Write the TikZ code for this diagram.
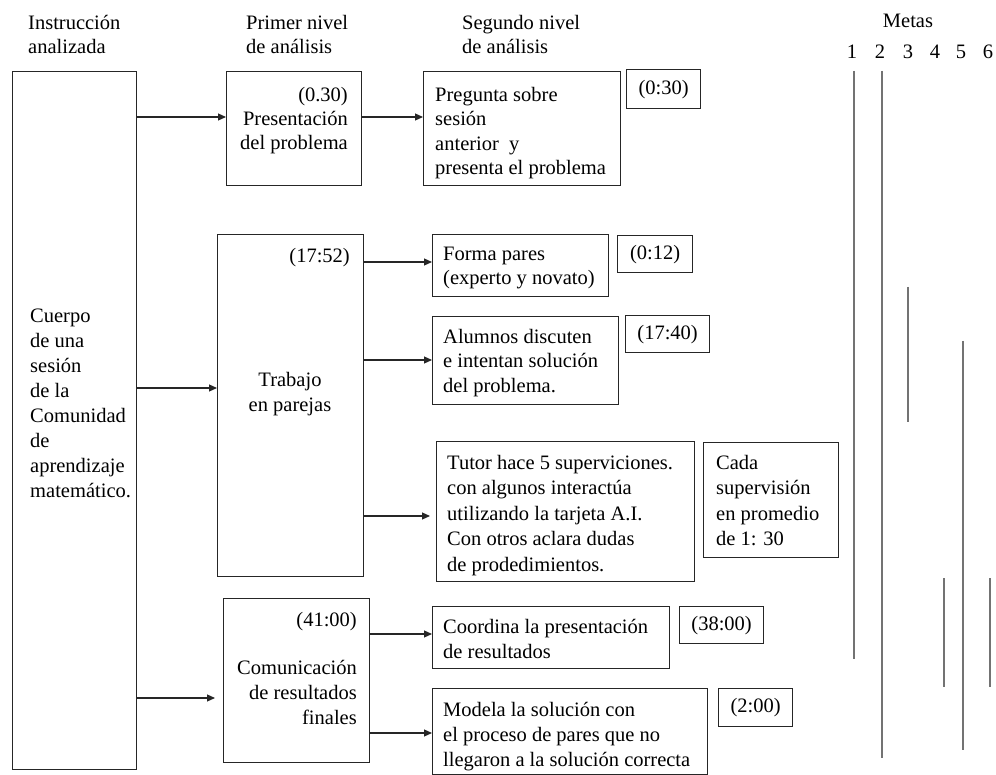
\documentclass[tikz,border=0pt]{standalone}
\usepackage{fontspec}
\setmainfont{Liberation Serif}
\usetikzlibrary{arrows.meta}
\begin{document}
\begin{tikzpicture}[x=1pt,y=-1pt,
  every node/.style={font=\fontsize{20.5}{25}\selectfont, inner sep=0pt},
  box/.style={draw=black!85, line width=1.2pt, anchor=north west},
  txt/.style={align=left, anchor=north west},
  rtxt/.style={align=right, anchor=north east},
  head/.style={align=left, anchor=north west, font=\fontsize{20.5}{24}\selectfont},
  conn/.style={draw=black!85, line width=1.1pt, -{Triangle[length=8pt,width=7pt]}},
  meta/.style={draw=black!55, line width=1.1pt}]

% page frame
\fill[white] (0,0) rectangle (996,775);
\useasboundingbox (0,0) rectangle (996,775);

% column headings
\node[head] (hInst) at (28,15) {Instrucción\\analizada};
\node[head] (hPrim) at (246,15) {Primer nivel\\de análisis};
\node[head] (hSeg)  at (462,15) {Segundo nivel\\de análisis};
\node[anchor=base] (hMetas) at (908,28) {Metas};
\node[anchor=base] (m1) at (852,59) {1};
\node[anchor=base] (m2) at (880,59) {2};
\node[anchor=base] (m3) at (908,59) {3};
\node[anchor=base] (m4) at (935,59) {4};
\node[anchor=base] (m5) at (961,59) {5};
\node[anchor=base] (m6) at (988,59) {6};

% analysed instruction
\node[box, minimum width=124pt, minimum height=698pt] (body) at (12,71) {};
\node[txt] (bodyt) at (30,309) {Cuerpo\\de una\\sesión\\de la\\Comunidad\\de\\aprendizaje\\matemático.};

% first level of analysis
\node[box, minimum width=135pt, minimum height=114pt] (p1) at (226,71) {};
\node[rtxt, font=\fontsize{20.5}{24}\selectfont] (p1t) at (348,87) {(0.30)\\Presentación\\del problema};

\node[box, minimum width=146pt, minimum height=342pt] (trab) at (217,234) {};
\node[rtxt] (trabl) at (350,248) {(17:52)};
\node[align=center, anchor=north] (trabt) at (290,372) {Trabajo\\en parejas};

\node[box, minimum width=146pt, minimum height=164pt] (com) at (223,598) {};
\node[rtxt] (comt) at (357,612) {(41:00)\\[23pt]Comunicación\\de resultados\\finales};

% second level of analysis
\node[box, minimum width=197pt, minimum height=114pt] (preg) at (423,71) {};
\node[txt, font=\fontsize{20.5}{24.4}\selectfont] (pregt) at (435,87) {Pregunta sobre\\sesión\\anterior\ \ y\\presenta el problema};
\node[box, minimum width=74pt, minimum height=39pt] (t030) at (626,69) {};
\node (t030t) at (t030.center) {(0:30)};

\node[box, minimum width=176pt, minimum height=62pt] (forma) at (432,234) {};
\node[txt, font=\fontsize{20.5}{24}\selectfont] (format) at (443,247) {Forma pares\\(experto y novato)};
\node[box, minimum width=75pt, minimum height=37pt] (t012) at (617,235) {};
\node (t012t) at (t012.center) {(0:12)};

\node[box, minimum width=186pt, minimum height=88pt] (alum) at (432,316) {};
\node[txt, font=\fontsize{20.5}{24.5}\selectfont] (alumt) at (443,329) {Alumnos discuten\\e intentan solución\\del problema.};
\node[box, minimum width=84pt, minimum height=37pt] (t1740) at (625,315) {};
\node (t1740t) at (t1740.center) {(17:40)};

\node[box, minimum width=258pt, minimum height=140pt] (tutor) at (436,441) {};
\node[txt, font=\fontsize{20.5}{25.5}\selectfont] (tutort) at (447,455) {Tutor hace 5 superviciones.\\con algunos interactúa\\utilizando la tarjeta A.I.\\Con otros aclara dudas\\de prodedimientos.};
\node[box, minimum width=135pt, minimum height=115pt] (cada) at (703,442) {};
\node[txt, font=\fontsize{20.5}{25.5}\selectfont] (cadat) at (716,455) {Cada\\supervisión\\en promedio\\de 1: 30};

\node[box, minimum width=237pt, minimum height=62pt] (coord) at (432,606) {};
\node[txt] (coordt) at (443,619) {Coordina la presentación\\de resultados};
\node[box, minimum width=84pt, minimum height=37pt] (t3800) at (679,606) {};
\node (t3800t) at (t3800.center) {(38:00)};

\node[box, minimum width=275pt, minimum height=86pt] (modela) at (432,688) {};
\node[txt] (modelat) at (443,702) {Modela la solución con\\el proceso de pares que no\\llegaron a la solución correcta};
\node[box, minimum width=74pt, minimum height=38pt] (t200) at (718,688) {};
\node (t200t) at (t200.center) {(2:00)};

% connector heights
\coordinate (a1) at (0,117);
\coordinate (a2) at (0,388);
\coordinate (a3) at (0,698);
\coordinate (a4) at (0,262);
\coordinate (a5) at (0,360);
\coordinate (a6) at (0,516);
\coordinate (a7) at (0,634);
\coordinate (a8) at (0,733);

% connectors
\draw[conn] (body.east |- a1) -- (p1.west |- a1);
\draw[conn] (p1.east |- a1) -- (preg.west |- a1);
\draw[conn] (body.east |- a2) -- (trab.west |- a2);
\draw[conn, shorten >=8pt] (body.east |- a3) -- (com.west |- a3);
\draw[conn] (trab.east |- a4) -- (forma.west |- a4);
\draw[conn] (trab.east |- a5) -- (alum.west |- a5);
\draw[conn, shorten >=6pt] (trab.east |- a6) -- (tutor.west |- a6);
\draw[conn] (com.east |- a7) -- (coord.west |- a7);
\draw[conn] (com.east |- a8) -- (modela.west |- a8);

% goal spans
\draw[meta] (854,71) -- (854,659);
\draw[meta] (882,71) -- (882,758);
\draw[meta] (908,287) -- (908,422);
\draw[meta] (944,578) -- (944,687);
\draw[meta] (963,341) -- (963,750);
\draw[meta] (990,578) -- (990,687);
\end{tikzpicture}
\end{document}
